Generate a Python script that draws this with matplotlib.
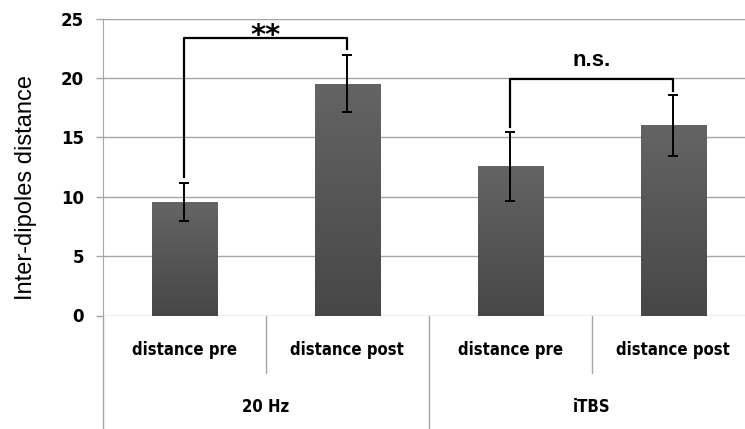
import numpy as np
import matplotlib
matplotlib.use("Agg")
from matplotlib import pyplot as plt
from matplotlib import colors as mcolors

# values
groups = ["20 Hz", "iTBS"]
conditions = ["distance pre", "distance post", "distance pre", "distance post"]
means = [9.55, 19.5, 12.55, 16.0]
errors = [1.6, 2.4, 2.9, 2.55]
y_ticks = [0, 5, 10, 15, 20, 25]

# significance brackets: (left bar, right bar, left foot, right foot, top, label)
brackets = [(0, 1, 11.7, 22.4, 23.4, "**"),
            (2, 3, 15.9, 18.9, 19.9, "n.s.")]

grid_color = "#a6a6a6"

fig = plt.figure(figsize=(7.45, 4.29), dpi=100)
ax = fig.add_axes([102.7 / 745, 1 - 315.5 / 429, 652 / 745, 297 / 429])

x = np.arange(len(means))
bar_w = 0.4

# bars with a soft vertical gradient like the office chart
cmap = mcolors.LinearSegmentedColormap.from_list("bar", ["#474747", "#646464"])
grad = np.linspace(0, 1, 100).reshape(-1, 1)
bars = ax.bar(x, means, width=bar_w, color="#555555", zorder=2)
for b in bars:
    x0, w, h = b.get_x(), b.get_width(), b.get_height()
    ax.imshow(grad, extent=[x0, x0 + w, 0, h], origin="lower", aspect="auto",
              cmap=cmap, zorder=2.5)

ax.errorbar(x, means, yerr=errors, fmt="none", ecolor="black", elinewidth=1.4,
            capsize=3.5, capthick=1.4, zorder=4)

for i, j, yl, yr, top, label in brackets:
    ax.plot([x[i], x[i], x[j], x[j]], [yl, top, top, yr], color="black",
            lw=1.6, zorder=5, clip_on=False)
    if label == "**":
        ax.text((x[i] + x[j]) / 2, top + 0.15, label, ha="center", va="center",
                fontsize=21, fontweight="bold", family="DejaVu Sans", zorder=6)
    else:
        ax.text((x[i] + x[j]) / 2, top + 1.6, label, ha="center", va="center",
                fontsize=16, fontweight="bold", family="Liberation Sans", zorder=6)

ax.set_xlim(-0.5, 3.5)
ax.set_ylim(0, 25)
ax.set_yticks(y_ticks)
ax.set_yticklabels([str(t) for t in y_ticks], fontsize=12, fontweight="bold",
                   family="DejaVu Sans")
ax.tick_params(axis="y", length=5, width=1, color=grid_color, pad=8.5)
ax.set_xticks([])
ax.yaxis.grid(True, color=grid_color, lw=1)
ax.set_axisbelow(True)
for s in ["top", "right", "bottom"]:
    ax.spines[s].set_visible(False)
ax.spines["left"].set_color(grid_color)
ax.spines["left"].set_zorder(1)

# two-level category axis drawn below the plot
cat_font = dict(family="DejaVu Sans", fontstretch="condensed", fontweight="bold",
                fontsize=12)
trans = ax.get_xaxis_transform()
for k, name in enumerate(conditions):
    ax.text(x[k], -0.116, name, transform=trans, ha="center", va="center", **cat_font)
for g, name in enumerate(groups):
    ax.text(2 * g + 0.5, -0.308, name, transform=trans, ha="center", va="center",
            **cat_font)
for d in [0.5, 2.5]:
    ax.plot([d, d], [0, -0.194], transform=trans, color=grid_color, lw=1, clip_on=False)
for d in [1.5]:
    ax.plot([d, d], [0, -0.4], transform=trans, color=grid_color, lw=1, clip_on=False)
ax.plot([-0.5, -0.5], [0, -0.4], transform=trans, color=grid_color, lw=1, clip_on=False)

fig.text(26 / 745, 1 - 188 / 429, "Inter-dipoles distance", rotation=90,
         ha="center", va="center", fontsize=17, family="Liberation Sans")

fig.savefig("out.png", dpi=100)
